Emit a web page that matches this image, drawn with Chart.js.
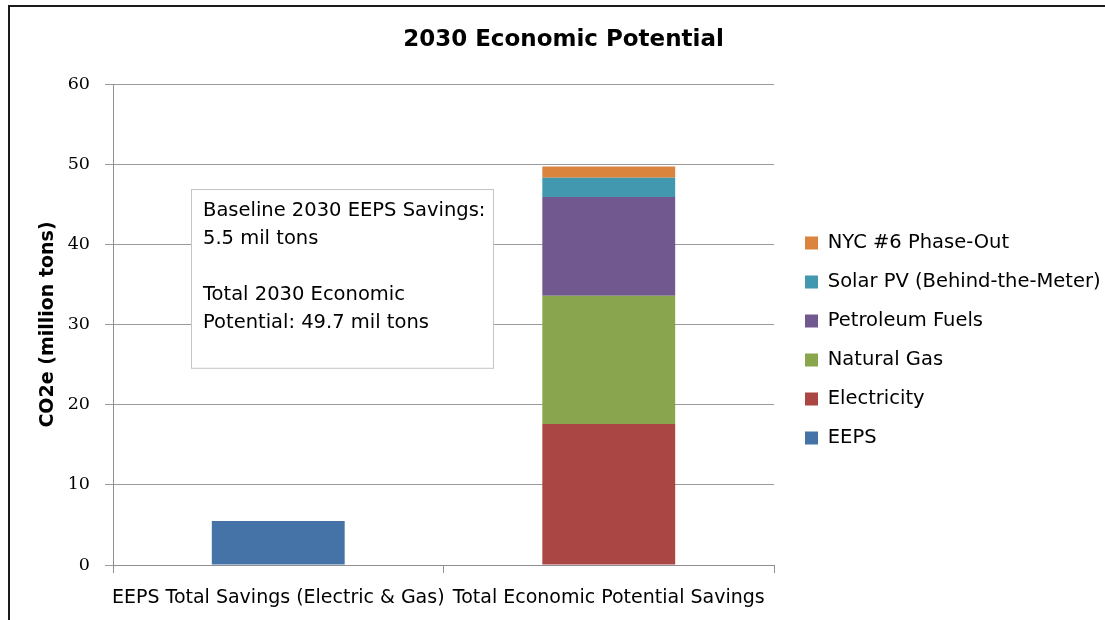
<!DOCTYPE html>
<html>
<head>
<meta charset="utf-8">
<script src="https://cdn.jsdelivr.net/npm/chart.js@4"></script>
<style>
  html, body { margin: 0; padding: 0; background: #ffffff; }
  #wrap { width: 1105px; height: 620px; position: relative; }
</style>
</head>
<body>
<div id="wrap"><canvas id="c" width="1105" height="620"></canvas></div>
<script>
// ---- data ----
const categories = ['EEPS Total Savings (Electric & Gas)', 'Total Economic Potential Savings'];
const seriesNames = ['EEPS', 'Electricity', 'Natural Gas', 'Petroleum Fuels', 'Solar PV (Behind-the-Meter)', 'NYC #6 Phase-Out'];
const eeps        = [5.5, null];
const electricity = [null, 17.6];
const naturalGas  = [null, 16.0];
const petroleum   = [null, 12.3];
const solarPV     = [null, 2.4];
const nyc6        = [null, 1.4];
const seriesColors = ['#4572A7', '#AA4643', '#89A54E', '#71588F', '#4198AF', '#DB843D'];
const yTicks = [0, 10, 20, 30, 40, 50, 60];
const chartTitle = '2030 Economic Potential';
const yTitle = 'CO2e (million tons)';
const noteLines = ['Baseline 2030 EEPS Savings:', '5.5 mil tons', '', 'Total 2030 Economic', 'Potential: 49.7 mil tons'];
const noteRange = [24.6, 46.9]; // value range covered by the note box

const seriesValues = [eeps, electricity, naturalGas, petroleum, solarPV, nyc6];
const BODY = '"DejaVu Sans", "Open Sans", sans-serif';

const frameAndNote = {
  id: 'frameAndNote',
  beforeDraw(chart) {
    const ctx = chart.ctx;
    ctx.save();
    ctx.fillStyle = '#ffffff';
    ctx.fillRect(0, 0, chart.width, chart.height);
    ctx.strokeStyle = '#1a1a1a';
    ctx.lineWidth = 2;
    ctx.beginPath();
    ctx.moveTo(9, chart.height);
    ctx.lineTo(9, 6);
    ctx.lineTo(chart.width, 6);
    ctx.stroke();
    ctx.restore();
  },
  afterDraw(chart) {
    const ctx = chart.ctx;
    const ya = chart.scales.y;
    const area = chart.chartArea;
    const top = ya.getPixelForValue(noteRange[1]);
    const bottom = ya.getPixelForValue(noteRange[0]);
    const left = area.left + 78;
    const width = 302;
    ctx.save();
    ctx.fillStyle = '#ffffff';
    ctx.fillRect(left, top, width, bottom - top);
    ctx.strokeStyle = '#c4c4c4';
    ctx.lineWidth = 1;
    ctx.strokeRect(left + 0.5, top + 0.5, width, bottom - top);
    ctx.fillStyle = '#000000';
    ctx.font = '19.5px ' + BODY;
    ctx.textBaseline = 'middle';
    ctx.textAlign = 'left';
    noteLines.forEach((t, i) => {
      ctx.fillText(t, left + 12, top + 22 + i * 28);
    });
    ctx.restore();
  }
};

new Chart(document.getElementById('c'), {
  type: 'bar',
  data: {
    labels: categories,
    datasets: seriesNames.map((name, i) => ({
      label: name,
      data: seriesValues[i],
      backgroundColor: seriesColors[i],
      borderWidth: 0,
      categoryPercentage: 1,
      barPercentage: 0.402
    }))
  },
  plugins: [frameAndNote],
  options: {
    responsive: false,
    animation: false,
    layout: { padding: { left: 22, top: 0, right: 0, bottom: 0 } },
    scales: {
      x: {
        stacked: true,
        grid: { display: true, drawOnChartArea: false, drawTicks: true, tickLength: 8, color: '#8f8f8f', offset: true },
        border: { display: true, color: '#8f8f8f' },
        ticks: { color: '#000', font: { family: BODY, size: 19 }, padding: 14, maxRotation: 0, autoSkip: false },
        afterFit(s) { s.height = 55; }
      },
      y: {
        stacked: true,
        min: 0, max: 60,
        afterBuildTicks(s) { s.ticks = yTicks.map(v => ({ value: v })); },
        grid: { color: '#9a9a9a', tickLength: 8, drawTicks: true },
        border: { display: true, color: '#8f8f8f' },
        ticks: { color: '#000', font: { family: '"DejaVu Serif", serif', size: 17.5 }, padding: 15 },
        title: { display: true, text: yTitle, color: '#000', font: { family: BODY, size: 19, weight: 'bold' }, padding: { top: 14.6, bottom: 0 } },
        afterFit(s) { s.width = 91; }
      },
      gap: {
        type: 'linear', position: 'right', display: true,
        ticks: { display: false }, grid: { display: false, drawTicks: false }, border: { display: false },
        afterFit(s) { s.width = 11.5; }
      }
    },
    plugins: {
      title: {
        display: true, text: chartTitle, color: '#000',
        font: { family: BODY, size: 23, weight: 'bold' },
        padding: { top: 26.2, bottom: 30.2 }
      },
      legend: {
        position: 'right',
        fullSize: false,
        reverse: true,
        maxWidth: 319.5,
        title: { display: true, text: '', font: { size: 12, lineHeight: 1 }, padding: { top: 20, bottom: 0 } },
        labels: { boxWidth: 13, boxHeight: 13, padding: 19.5, color: '#000', font: { family: BODY, size: 19.5 } }
      },
      tooltip: { enabled: false }
    }
  }
});
</script>
</body>
</html>
